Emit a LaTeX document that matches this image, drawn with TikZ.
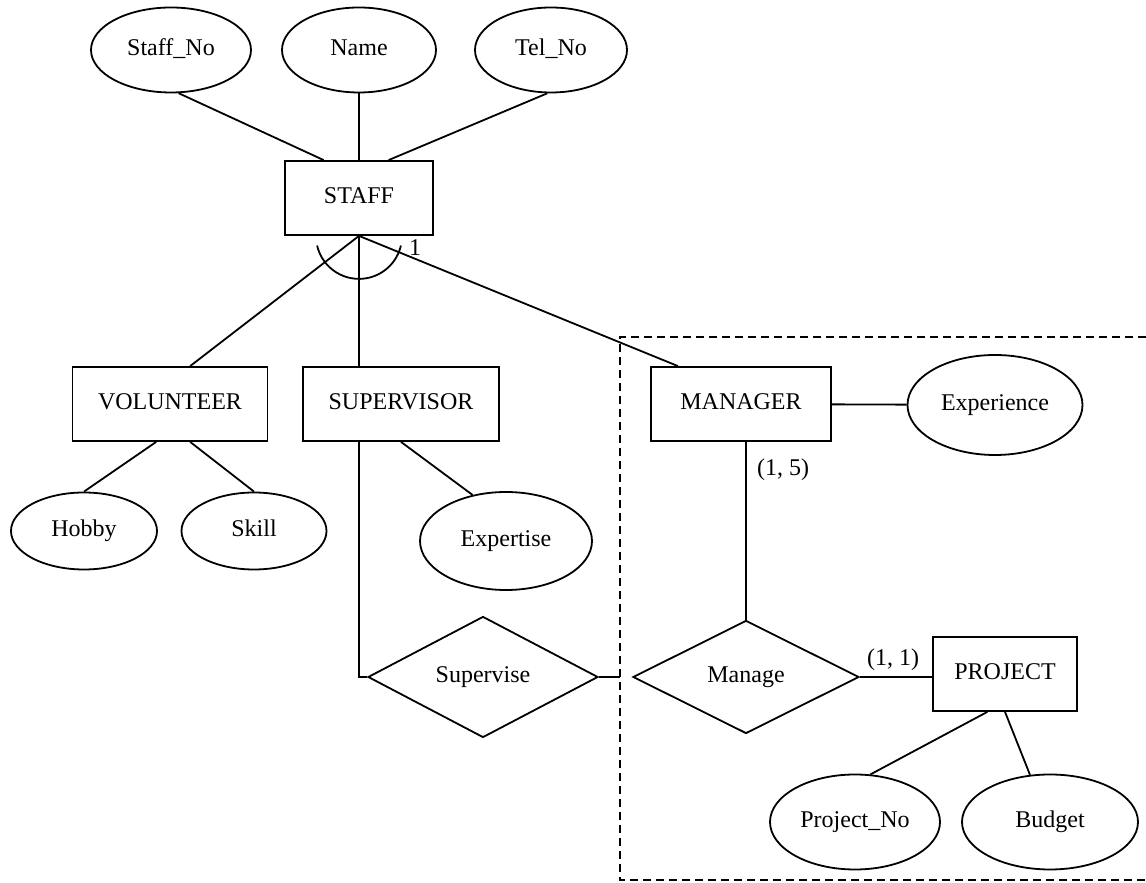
\documentclass[tikz,border=0pt]{standalone}
\usepackage{fontspec}
\setmainfont{Liberation Serif}
\usetikzlibrary{shapes.geometric}

\begin{document}
\begin{tikzpicture}[x=0.5pt, y=0.5pt, line width=0.9pt,
    font=\fontsize{12pt}{14pt}\selectfont,
    every node/.style={text height=1.6ex, text depth=0.3ex},
    entity/.style={draw, rectangle, inner sep=2pt, minimum width=#1, minimum height=37pt},
    attr/.style 2 args={draw, ellipse, inner sep=0pt, minimum width=#1, minimum height=#2},
    rel/.style 2 args={draw, diamond, aspect=2, inner sep=0pt, minimum width=#1, minimum height=#2},
    card/.style={inner sep=1pt}]
    \useasboundingbox (0, 0) rectangle (1146, 883);

    \node[attr={80pt}{42.5pt}] (staffno) at (171, 833) {Staff\_No};
    \node[attr={77pt}{42.5pt}] (name) at (359, 833) {Name};
    \node[attr={76pt}{42.5pt}] (telno) at (551, 833) {Tel\_No};
    \node[entity=74pt] (staff) at (359, 685) {STAFF};

    \node[entity=97.5pt] (volunteer) at (170, 479) {VOLUNTEER};
    \node[entity=98pt] (supervisor) at (401, 479) {SUPERVISOR};
    \node[entity=90pt] (manager) at (741, 479) {MANAGER};
    \node[attr={87.5pt}{50pt}] (experience) at (995, 478) {Experience};

    \node[attr={73pt}{38.5pt}] (hobby) at (84, 352) {Hobby};
    \node[attr={72.5pt}{38.5pt}] (skill) at (254, 352) {Skill};
    \node[attr={86pt}{49pt}] (expertise) at (506, 342) {Expertise};

    \node[rel={115pt}{60.5pt}] (supervise) at (483, 206) {Supervise};
    \node[rel={113pt}{56.5pt}] (manage) at (746, 206) {Manage};
    \node[entity=72pt] (project) at (1005, 209) {PROJECT};
    \node[attr={85pt}{47.5pt}] (projectno) at (855, 61) {Project\_No};
    \node[attr={88pt}{47.5pt}] (budget) at (1050, 61) {Budget};

    \coordinate (boxnw) at (620, 546);
    \coordinate (boxsw) at (620, 3);
    \draw[dash pattern=on 4pt off 2.5pt] (1146, 546) -- (boxnw) -- (boxsw) -- (1146, 3);

    \draw (staffno.-80) -- (staff.133);
    \draw (name.south) -- (staff.north);
    \draw (telno.-95) -- (staff.52);
    \draw (staff.south) -- (volunteer.62);
    \draw (staff.south) -- (staff.south |- supervisor.north);
    \draw (staff.south) -- (manager.149);
    \draw ([shift={(193:21.5pt)}]staff.south) arc[start angle=193, end angle=347, radius=21.5pt];
    \node[card] (one) at (415, 633) {1};

    \draw (volunteer.-110) -- (hobby.north);
    \draw (volunteer.-62) -- (skill.north);
    \draw (supervisor.south) -- (expertise.126);
    \draw (manager) -- (experience);

    \draw (supervisor.south -| staff.south) |- (supervise.west);
    \draw (supervise.east) -- (supervise.east -| boxnw);
    \draw (manage.north |- manager.south) -- (manage.north);
    \node[card] (mcard) at (783, 413) {(1, 5)};
    \draw (manage.east) -- (manage.east -| project.west);
    \node[card] (pcard) at (893, 223) {(1, 1)};

    \draw (project.-115) -- (projectno.72);
    \draw (project.south) -- (budget.113);
\end{tikzpicture}
\end{document}
